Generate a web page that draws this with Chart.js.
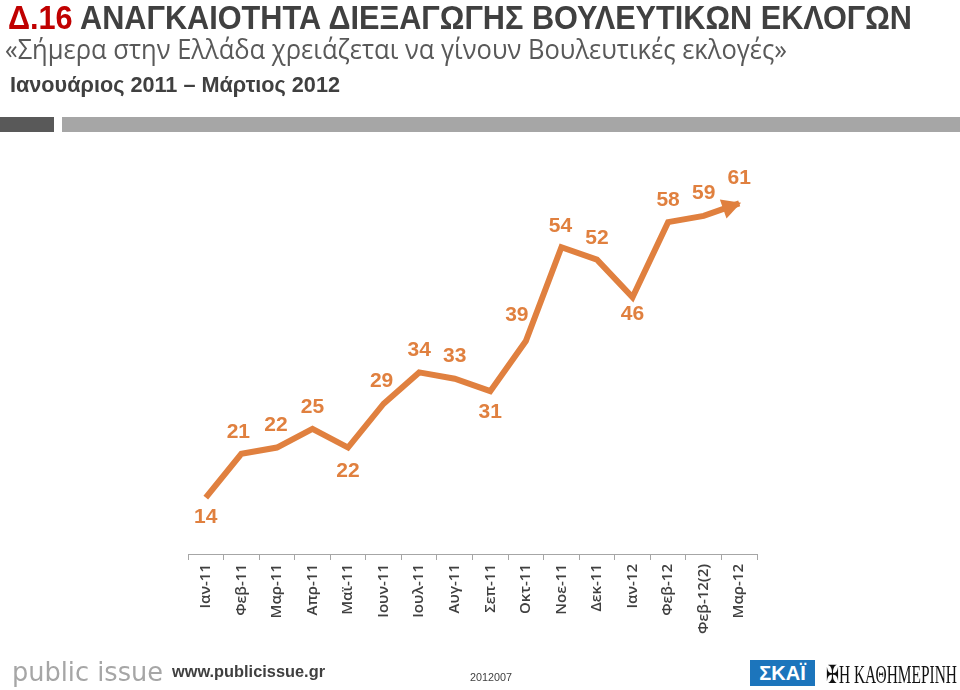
<!DOCTYPE html>
<html>
<head>
<meta charset="utf-8">
<script src="https://cdn.jsdelivr.net/npm/chart.js@4/dist/chart.umd.min.js"></script>
<style>
  html,body{margin:0;padding:0;background:#fff;}
  #wrap{position:relative;width:960px;height:690px;overflow:hidden;background:#fff;}
  canvas{position:absolute;left:0;top:0;}
  .t{position:absolute;white-space:nowrap;transform-origin:0 50%;line-height:1;}
  #title{left:8px;top:0px;font-family:"Liberation Sans Narrow","Liberation Sans",sans-serif;font-weight:bold;font-size:34px;color:#404040;}
  #title span{color:#C00000;}
  #sub{left:5px;top:35px;font-family:"Open Sans",sans-serif;font-weight:normal;font-style:normal;font-size:27px;color:#595959;}
  #period{left:10px;top:74px;font-family:"Liberation Sans Narrow","Liberation Sans",sans-serif;font-weight:bold;font-size:22px;color:#404040;}
  .bar{position:absolute;top:117px;height:15px;}
  #pi{left:12px;top:659px;font-family:"DejaVu Sans",sans-serif;font-size:26px;color:#A6A6A6;}
  #www{left:172px;top:663px;font-family:"Liberation Sans",sans-serif;font-weight:bold;font-size:17px;color:#404040;}
  #code{left:470px;top:672px;font-family:"Liberation Sans",sans-serif;font-size:11px;color:#404040;}
  #skai{position:absolute;left:750px;top:660px;width:65px;height:26px;background:#1C75BC;color:#fff;font-family:"Liberation Sans",sans-serif;font-weight:bold;font-size:20px;text-align:center;line-height:26px;}
  #kath{left:826px;top:662px;font-family:"Liberation Serif",serif;font-size:25px;color:#111;}
</style>
</head>
<body>
<div id="wrap">
  <canvas id="c" width="960" height="690"></canvas>
  <div class="t" id="title" data-w="904"><span>Δ.16</span> ΑΝΑΓΚΑΙΟΤΗΤΑ ΔΙΕΞΑΓΩΓΗΣ ΒΟΥΛΕΥΤΙΚΩΝ ΕΚΛΟΓΩΝ</div>
  <div class="t" id="sub" data-w="782">«Σήμερα στην Ελλάδα χρειάζεται να γίνουν Βουλευτικές εκλογές»</div>
  <div class="t" id="period" data-w="330">Ιανουάριος 2011 – Μάρτιος 2012</div>
  <div class="bar" style="left:0;width:54px;background:#595959;"></div>
  <div class="bar" style="left:62px;width:898px;background:#A6A6A6;"></div>
  <div class="t" id="pi" data-w="151">public issue</div>
  <div class="t" id="www" data-w="153">www.publicissue.gr</div>
  <div class="t" id="code" data-w="42">2012007</div>
  <div id="skai">ΣΚΑΪ</div>
  <div class="t" id="kath" data-w="131">✠Η ΚΑΘΗΜΕΡΙΝΗ</div>
</div>
<script>
const categories = ["Ιαν-11","Φεβ-11","Μαρ-11","Απρ-11","Μαϊ-11","Ιουν-11","Ιουλ-11","Αυγ-11","Σεπ-11","Οκτ-11","Νοε-11","Δεκ-11","Ιαν-12","Φεβ-12","Φεβ-12(2)","Μαρ-12"];
const values = [14,21,22,25,22,29,34,33,31,39,54,52,46,58,59,61];

const ORANGE = "#E0803F";

// label offsets (dx, dy) relative to each point — presentation only
const labelOffsets = [[0,20],[-3,-22],[-1,-22],[0,-22],[0,24],[-2,-23],[0,-22],[0,-22],[0,21],[-9,-26],[-1,-21],[0,-22],[0,17],[0,-22],[0,-23],[0,-25]];

document.querySelectorAll('[data-w]').forEach(el=>{
  const w = el.getBoundingClientRect().width;
  const target = parseFloat(el.dataset.w);
  el.style.transform = 'scaleX(' + (target/w) + ')';
});

const deco = {
  id:'deco',
  afterDatasetsDraw(chart){
    const ctx = chart.ctx;
    const meta = chart.getDatasetMeta(0);
    const pts = meta.data;
    const a = pts[pts.length-2], b = pts[pts.length-1];
    const ang = Math.atan2(b.y-a.y, b.x-a.x);
    const L = 17, H = 10;
    ctx.save();
    ctx.fillStyle = ORANGE;
    ctx.beginPath();
    ctx.moveTo(b.x+2*Math.cos(ang), b.y+2*Math.sin(ang));
    ctx.lineTo(b.x - L*Math.cos(ang) + H*Math.sin(ang), b.y - L*Math.sin(ang) - H*Math.cos(ang));
    ctx.lineTo(b.x - L*Math.cos(ang) - H*Math.sin(ang), b.y - L*Math.sin(ang) + H*Math.cos(ang));
    ctx.closePath();
    ctx.fill();
    ctx.font = 'bold 21px "Liberation Sans", sans-serif';
    ctx.textAlign = 'center';
    ctx.textBaseline = 'middle';
    pts.forEach((p,i)=>{
      const o = labelOffsets[i];
      ctx.fillText(String(values[i]), p.x+o[0], p.y+o[1]);
    });
    ctx.restore();
  }
};

new Chart(document.getElementById('c'), {
  type:'line',
  data:{
    labels: categories,
    datasets:[{
      data: values,
      borderColor: ORANGE,
      borderWidth: 6,
      pointRadius: 0,
      tension: 0,
      fill:false
    }]
  },
  options:{
    responsive:false,
    animation:false,
    events:[],
    layout:{padding:{left:188,right:203,top:147,bottom:0}},
    plugins:{legend:{display:false},tooltip:{enabled:false},title:{display:false}},
    scales:{
      x:{
        offset:true,
        afterFit(scale){ scale.height = 136; },
        border:{display:true,color:'#A6A6A6',width:1},
        grid:{display:true,offset:true,drawOnChartArea:false,drawTicks:true,tickLength:6,color:'#A6A6A6'},
        ticks:{minRotation:90,maxRotation:90,autoSkip:false,padding:4,color:'#404040',font:{family:'"Open Sans", sans-serif',size:15,weight:'600'}}
      },
      y:{display:false,min:5,max:70}
    }
  },
  plugins:[deco]
});
</script>
</body>
</html>
